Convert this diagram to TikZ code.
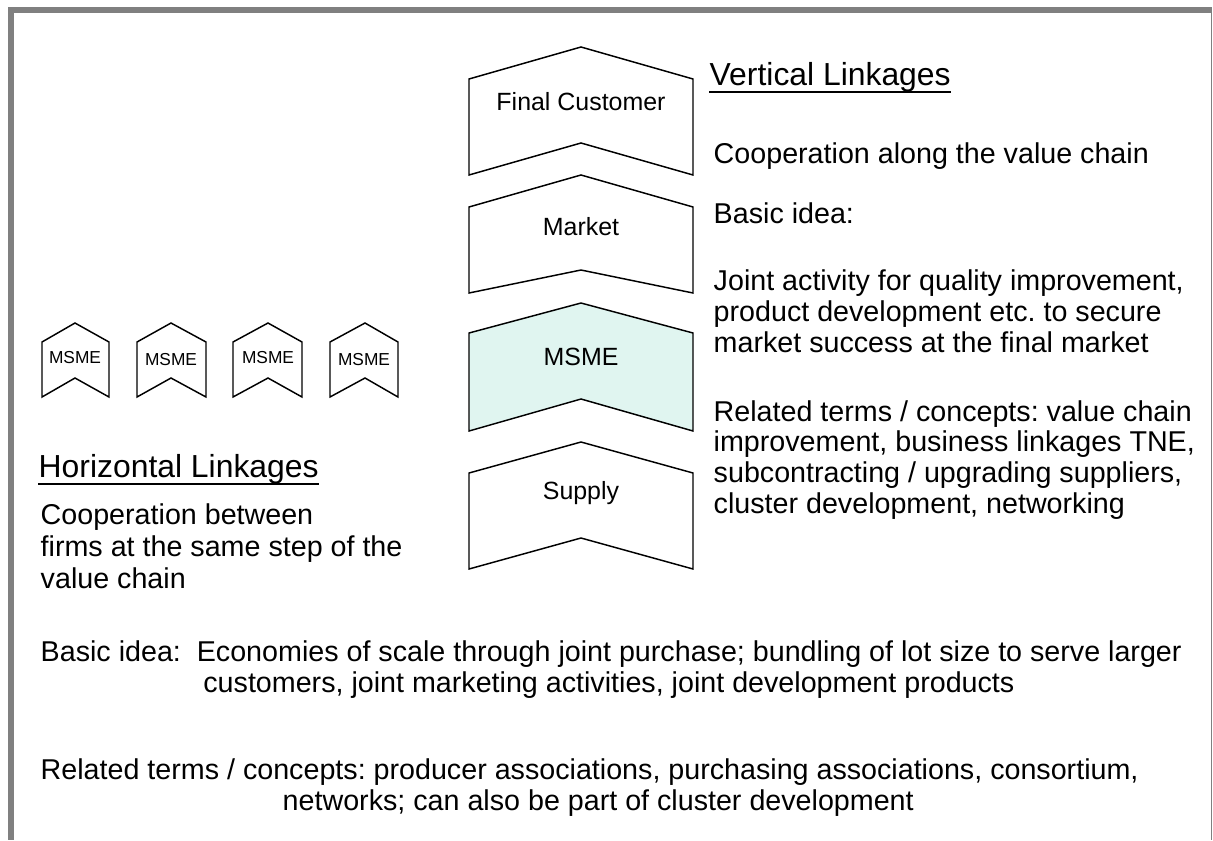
\documentclass[tikz,border=0pt]{standalone}
\usepackage{fontspec}
\setmainfont{Liberation Sans}
\frenchspacing
\definecolor{msmefill}{RGB}{224,245,240}
\definecolor{framegray}{RGB}{128,128,128}
\tikzset{every picture/.style={line width=1.1pt}}
\tikzset{
  chev/.style={draw=black, line join=miter},
  bodytxt/.style={anchor=base west, inner sep=0pt, align=left, font=\fontsize{21.5}{23}\selectfont},
  headtxt/.style={anchor=base west, inner sep=0pt, font=\fontsize{23.9}{28}\selectfont},
  chevtxt/.style={anchor=base, inner sep=0pt, font=\fontsize{18.7}{22}\selectfont},
  smalltxt/.style={anchor=base, inner sep=0pt, font=\fontsize{13}{15}\selectfont},
}

\begin{document}
\begin{tikzpicture}[x=0.75pt,y=0.75pt,yscale=-1,xscale=1]
	\useasboundingbox (0,0) rectangle (1213,840);
	
	%Shape: Frame
	\fill [framegray] (8,7) rectangle (1212,13) ;
	\fill [framegray] (8,7) rectangle (14,840) ;
	\draw [framegray]  (1211.5,13) -- (1211.5,840) ;
	
	%Shape: Chevron Final Customer
	\draw [chev]  (469,79) -- (581,47) -- (693,79) -- (693,175) -- (581,143) -- (469,175) -- cycle ;
	%Shape: Chevron Market
	\draw [chev]  (469,207) -- (581,175) -- (693,207) -- (693,293) -- (581,270) -- (469,293) -- cycle ;
	%Shape: Chevron MSME
	\draw [chev, fill=msmefill]  (469,333) -- (581,303) -- (693,333) -- (693,431) -- (581,399) -- (469,431) -- cycle ;
	%Shape: Chevron Supply
	\draw [chev]  (469,473) -- (581,442) -- (693,473) -- (693,569) -- (581,538) -- (469,569) -- cycle ;
	
	%Shape: Small Chevrons
	\draw [chev]  (42,342) -- (75,323) -- (109,342) -- (109,397) -- (75,378) -- (42,397) -- cycle ;
	\draw [chev]  (137,342) -- (171,323) -- (206,342) -- (206,397) -- (171,378) -- (137,397) -- cycle ;
	\draw [chev]  (233,342) -- (268,323) -- (302,342) -- (302,397) -- (268,378) -- (233,397) -- cycle ;
	\draw [chev]  (330,342) -- (365,323) -- (398,342) -- (398,397) -- (365,378) -- (330,397) -- cycle ;
	
	% Text Node
	\draw (581,110) node [chevtxt] (fincust) {Final Customer};
	% Text Node
	\draw (581,235) node [chevtxt] (market) {Market};
	% Text Node
	\draw (581,365) node [chevtxt] (msmemid) {MSME};
	% Text Node
	\draw (581,499) node [chevtxt] (supply) {Supply};
	% Text Node
	\draw (75,363) node [smalltxt] (msmea) {MSME};
	% Text Node
	\draw (171,365) node [smalltxt] (msmeb) {MSME};
	% Text Node
	\draw (268,363) node [smalltxt] (msmec) {MSME};
	% Text Node
	\draw (364,365) node [smalltxt] (msmed) {MSME};
	
	% Text Node
	\draw (709,85) node [headtxt] (vlink) {Vertical Linkages};
	\draw [line width=1.4pt]  (vlink.south west) -- (vlink.south east) ;
	% Text Node
	\draw (713,163) node [bodytxt] (coopv) {Cooperation along the value chain};
	% Text Node
	\draw (713,223) node [bodytxt] (basicv) {Basic idea:};
	% Text Node
	\draw (713,352) node [bodytxt] (jointv) {Joint activity for quality improvement,\\product development etc. to secure\\market success at the final market};
	% Text Node
	\draw (713,513) node [bodytxt] (relv) {Related terms / concepts: value chain\\improvement, business linkages TNE,\\subcontracting / upgrading suppliers,\\cluster development, networking};
	
	% Text Node
	\draw (38,477) node [headtxt] (hlink) {Horizontal Linkages};
	\draw [line width=1.4pt]  (hlink.south west) -- (hlink.south east) ;
	% Text Node
	\draw (40,588) node [bodytxt, font=\fontsize{21.5}{24}\selectfont] (cooph) {Cooperation between\\firms at the same step of the\\value chain};
	% Text Node
	\draw (40,692) node [bodytxt] (basich) {Basic idea:\ \ Economies of scale through joint purchase; bundling of lot size to serve larger\\\hspace*{122pt}customers, joint marketing activities, joint development products};
	% Text Node
	\draw (40,810) node [bodytxt] (relh) {Related terms / concepts: producer associations, purchasing associations, consortium,\\\hspace*{181.5pt}networks; can also be part of cluster development};
	
\end{tikzpicture}
\end{document}
